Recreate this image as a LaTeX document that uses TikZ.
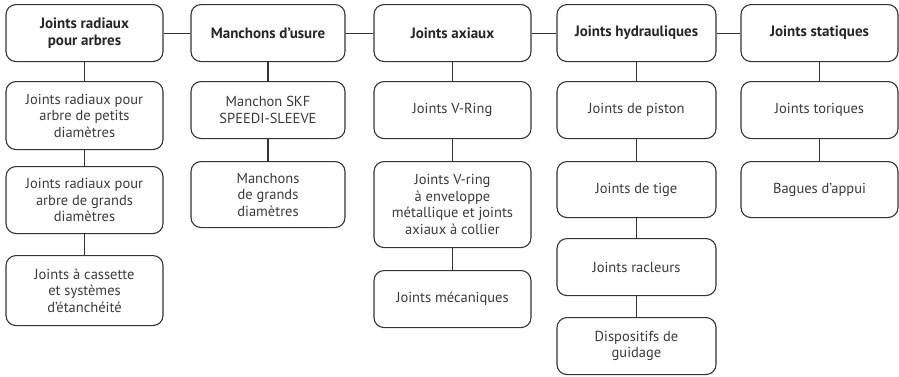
\documentclass[tikz,border=0pt]{standalone}
\usepackage{fontspec}
\setmainfont{PT Sans}
\usepackage{tikz}

\definecolor{linegray}{HTML}{333333}
\definecolor{textgray}{HTML}{3A3A3A}

\tikzset{
  box/.style={draw=linegray, line width=1.1pt, rounded corners=10pt,
    minimum width=157pt, inner sep=2pt, align=center, anchor=north,
    text=textgray, font=\fontsize{14.5}{16.5}\selectfont},
  head/.style={box, minimum height=57pt, text=black!85,
    font=\bfseries\fontsize{15}{16.5}\selectfont},
  link/.style={draw=linegray, line width=1.1pt},
}

\begin{document}
\begin{tikzpicture}[x=1pt, y=-1pt]
  \useasboundingbox (0,0) rectangle (899,376);
  % Top row of families
  \node[head] (radiaux) at (84.5,4) {Joints radiaux\\pour arbres};
  \node[head, minimum width=154pt] (usure) at (268,4) {Manchons d’usure};
  \node[head] (axiaux) at (452.5,4) {Joints axiaux};
  \node[head, minimum width=159pt] (hydro) at (636.5,4) {Joints hydrauliques};
  \node[head] (statiques) at (819.5,4) {Joints statiques};
  \draw[link] (radiaux) -- (usure);
  \draw[link] (usure) -- (axiaux);
  \draw[link] (axiaux) -- (hydro);
  \draw[link] (hydro) -- (statiques);
  % Joints radiaux pour arbres
  \node[box, minimum height=68pt] (petits) at (84.5,81) {Joints radiaux pour\\arbre de petits\\diamètres};
  \node[box, minimum height=67pt] (grands) at (84.5,166) {Joints radiaux pour\\arbre de grands\\diamètres};
  \node[box, minimum height=70pt] (cassette) at (84.5,255) {Joints à cassette\\et systèmes\\d’étanchéité};
  \draw[link] (radiaux) -- (petits);
  \draw[link] (petits) -- (grands);
  \draw[link] (grands) -- (cassette);
  % Manchons d'usure
  \node[box, minimum width=154pt, minimum height=57pt] (sleeve) at (268,81) {Manchon SKF\\SPEEDI-SLEEVE};
  \node[box, minimum width=154pt, minimum height=66pt] (mgrands) at (268,161) {Manchons\\de grands\\diamètres};
  \draw[link] (usure) -- (sleeve);
  \draw[link] (sleeve) -- (mgrands);
  % Joints axiaux
  \node[box, minimum height=57pt] (vring) at (452.5,81) {Joints V-Ring};
  \node[box, minimum height=86pt] (collier) at (452.5,161) {Joints V-ring\\à enveloppe\\métallique et joints\\axiaux à collier};
  \node[box, minimum height=57pt] (meca) at (452.5,270) {Joints mécaniques};
  \draw[link] (axiaux) -- (vring);
  \draw[link] (vring) -- (collier);
  \draw[link] (collier) -- (meca);
  % Joints hydrauliques
  \node[box, minimum width=159pt, minimum height=57pt] (piston) at (636.5,81) {Joints de piston};
  \node[box, minimum width=159pt, minimum height=56pt] (tige) at (636.5,161) {Joints de tige};
  \node[box, minimum width=159pt, minimum height=57pt] (racleurs) at (636.5,238) {Joints racleurs};
  \node[box, minimum width=159pt, minimum height=57pt] (guidage) at (636.5,317) {Dispositifs de\\guidage};
  \draw[link] (hydro) -- (piston);
  \draw[link] (piston) -- (tige);
  \draw[link] (tige) -- (racleurs);
  \draw[link] (racleurs) -- (guidage);
  % Joints statiques
  \node[box, minimum height=57pt] (toriques) at (819.5,81) {Joints toriques};
  \node[box, minimum height=56pt] (appui) at (819.5,161) {Bagues d’appui};
  \draw[link] (statiques) -- (toriques);
  \draw[link] (toriques) -- (appui);
\end{tikzpicture}
\end{document}
